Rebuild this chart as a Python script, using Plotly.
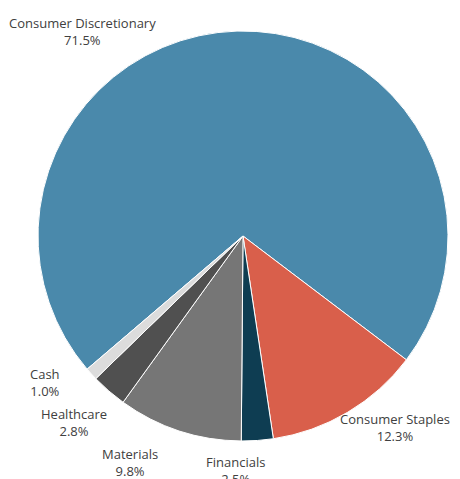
import plotly.graph_objects as go

W, H = 460, 479

labels = ["Consumer Discretionary", "Consumer Staples", "Financials", "Materials", "Healthcare", "Cash"]
values = [71.5, 12.3, 2.5, 9.8, 2.8, 1.0]
colors = ["#4A89AB", "#D95F4B", "#0E3D52", "#767676", "#505050", "#DCDCDC"]

# label block centres in pixels (layout only)
label_px = [(82, 31), (395, 427), (235, 470), (130, 462), (74, 422), (45, 382)]

cx, cy, r = 243, 236, 205

fig = go.Figure(go.Pie(
    labels=labels,
    values=values,
    sort=False,
    direction="clockwise",
    rotation=-130.5,
    marker=dict(colors=colors, line=dict(color="white", width=1)),
    textinfo="none",
    hoverinfo="label+value",
    showlegend=False,
    domain=dict(x=[(cx - r) / W, (cx + r) / W], y=[1 - (cy + r) / H, 1 - (cy - r) / H]),
))

annotations = []
for lab, val, (px, py) in zip(labels, values, label_px):
    annotations.append(dict(
        text=f"{lab}<br>{val:.1f}%",
        x=px / W, y=1 - py / H, xref="paper", yref="paper",
        xanchor="center", yanchor="middle", showarrow=False,
        align="center",
        font=dict(family="Open Sans", size=13, color="#404040"),
    ))

fig.update_layout(
    width=W, height=H,
    margin=dict(l=0, r=0, t=0, b=0),
    paper_bgcolor="white", plot_bgcolor="white",
    annotations=annotations,
)

fig.write_html("out.html")
